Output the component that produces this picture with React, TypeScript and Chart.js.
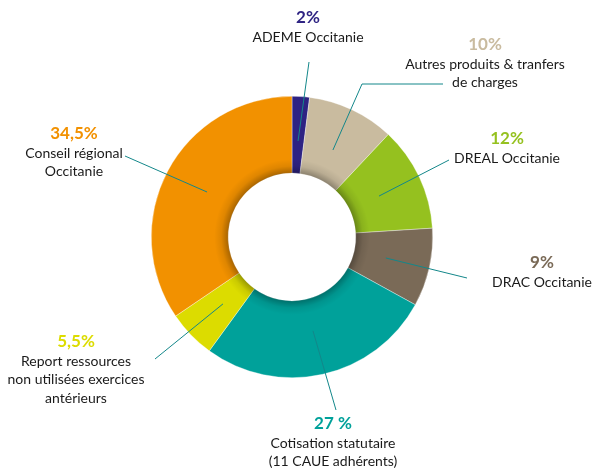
import React, { useEffect, useRef } from "react";
import { Chart, registerables } from "chart.js";

Chart.register(...registerables);

// ---- Data ----
const categories = [
  "ADEME Occitanie",
  "Autres produits & tranfers de charges",
  "DREAL Occitanie",
  "DRAC Occitanie",
  "Cotisation statutaire (11 CAUE adhérents)",
  "Report ressources non utilisées exercices antérieurs",
  "Conseil régional Occitanie",
];
const values = [2, 10, 12, 9, 27, 5.5, 34.5];
const percentLabels = ["2%", "10%", "12%", "9%", "27 %", "5,5%", "34,5%"];
const labelLines = [
  ["ADEME Occitanie"],
  ["Autres produits & tranfers", "de charges"],
  ["DREAL Occitanie"],
  ["DRAC Occitanie"],
  ["Cotisation statutaire", "(11 CAUE adhérents)"],
  ["Report ressources", "non utilisées exercices", "antérieurs"],
  ["Conseil régional", "Occitanie"],
];
const colors = ["#2e2383", "#c9bb9f", "#95c11f", "#7a6a57", "#00a19a", "#dcdc00", "#f29100"];

// ---- Annotation layout (label anchor & leader line end points) ----
const labelLayout = [
  { x: 308, y: 18, leader: [[309, 62]] },
  { x: 485, y: 45, leader: [[362, 84], [443, 84]] },
  { x: 507, y: 139, leader: [[449, 160]] },
  { x: 542, y: 263, leader: [[467, 278]] },
  { x: 333, y: 424, leader: [[336, 410]] },
  { x: 76, y: 342, leader: [[155, 359]] },
  { x: 74, y: 134, leader: [[125, 156]] },
];

const FONT = "Lato, 'Open Sans', sans-serif";

const labelPlugin = {
  id: "labelPlugin",
  afterDatasetsDraw(chart: any) {
    const ctx = chart.ctx as CanvasRenderingContext2D;
    const meta = chart.getDatasetMeta(0);
    const first = meta.data[0];
    if (!first) return;
    const { x, y, innerRadius, outerRadius } = first.getProps(["x", "y", "innerRadius", "outerRadius"], true);
    // inner shadow around the hole
    ctx.save();
    const w = 14;
    const g = ctx.createRadialGradient(x, y, innerRadius, x, y, innerRadius + w);
    g.addColorStop(0, "rgba(0,0,0,0.30)");
    g.addColorStop(0.5, "rgba(0,0,0,0.08)");
    g.addColorStop(1, "rgba(0,0,0,0)");
    ctx.beginPath();
    ctx.arc(x, y, innerRadius + w, 0, Math.PI * 2);
    ctx.arc(x, y, innerRadius, 0, Math.PI * 2, true);
    ctx.fillStyle = g;
    ctx.fill();
    ctx.restore();

    // leader lines & labels
    meta.data.forEach((arc: any, i: number) => {
      const p = arc.getProps(["startAngle", "endAngle", "innerRadius", "outerRadius", "x", "y"], true);
      const mid = (p.startAngle + p.endAngle) / 2;
      const r = p.innerRadius + (p.outerRadius - p.innerRadius) * 0.42;
      const sx = p.x + Math.cos(mid) * r;
      const sy = p.y + Math.sin(mid) * r;
      const lay = labelLayout[i];
      ctx.save();
      ctx.strokeStyle = "#13878a";
      ctx.lineWidth = 1;
      ctx.beginPath();
      ctx.moveTo(sx, sy);
      lay.leader.forEach((pt) => ctx.lineTo(pt[0], pt[1]));
      ctx.stroke();

      ctx.textAlign = "center";
      ctx.textBaseline = "middle";
      ctx.fillStyle = colors[i];
      ctx.font = `bold 17px ${FONT}`;
      ctx.fillText(percentLabels[i], lay.x, lay.y);
      ctx.fillStyle = "#1a1a1a";
      ctx.font = `14px ${FONT}`;
      labelLines[i].forEach((line, k) => {
        ctx.fillText(line, lay.x, lay.y + 19 + k * 18.5);
      });
      ctx.restore();
    });
  },
};

export default function App() {
  const ref = useRef<HTMLCanvasElement>(null);
  useEffect(() => {
    if (!ref.current) return;
    const chart = new Chart(ref.current, {
      type: "doughnut",
      data: {
        labels: categories,
        datasets: [
          {
            data: values,
            backgroundColor: colors,
            borderColor: "rgba(255,255,255,0.6)",
            borderWidth: 0.6,
          },
        ],
      },
      options: {
        responsive: false,
        animation: false,
        cutout: "45.4%",
        layout: { padding: { left: 151, right: 162, top: 96, bottom: 90 } },
        plugins: {
          legend: { display: false },
          tooltip: { enabled: false },
        },
      },
      plugins: [labelPlugin],
    });
    return () => chart.destroy();
  }, []);
  return (
    <div style={{ position: "absolute", left: 0, top: 0, width: 595, height: 468, background: "#fff" }}>
      <canvas ref={ref} width={595} height={468} />
    </div>
  );
}
